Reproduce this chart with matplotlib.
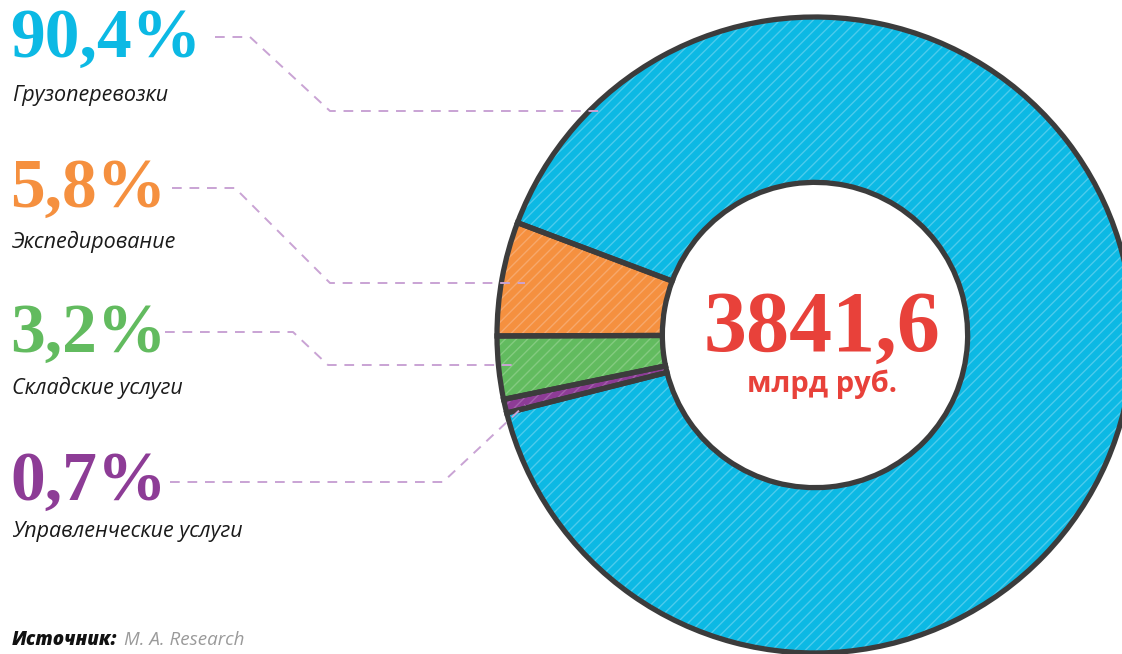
import numpy as np
import matplotlib.pyplot as plt

# доля сегментов рынка логистики, %
categories = ["Грузоперевозки", "Экспедирование", "Складские услуги", "Управленческие услуги"]
shares = [90.4, 5.8, 3.2, 0.7]
share_labels = ["90,4%", "5,8%", "3,2%", "0,7%"]
total_label = "3841,6"
total_unit = "млрд руб."

colors = ["#0cb9e4", "#f5903f", "#62bb5f", "#8d3c96"]
hatch_colors = ["#4ccbec", "#f7a86c", "#84cb80", "#a35fac"]
outline = "#3c3c3c"
leader = "#c9a3d4"

W, H = 1122, 654
fig = plt.figure(figsize=(W / 100, H / 100), dpi=100)
ax = fig.add_axes([0, 0, 1, 1])

cx, cy = 815, H - 335
R = 318
width = 0.52

# кольцо: синий сегмент первым, остальные слева
start = 194.2
wedges, _ = ax.pie(shares, colors=colors, startangle=start, counterclock=True,
                   radius=R, center=(cx, cy), frame=True,
                   wedgeprops=dict(width=R * width, linewidth=0))
for w, hc in zip(wedges, hatch_colors):
    w.set_hatch("///")
    w.set_edgecolor(hc)
ax.pie(shares, colors=["none"] * 4, startangle=start, counterclock=True,
       radius=R, center=(cx, cy), frame=True,
       wedgeprops=dict(width=R * width, linewidth=3.8, edgecolor=outline, fill=False))
ax.set_xlim(0, W)
ax.set_ylim(0, H)
ax.set_aspect("equal")
ax.axis("off")

# подписи слева
pct_y = [40, 190, 335, 483]
name_y = [95, 242, 388, 532]
for lab, name, col, py, ny in zip(share_labels, categories, colors, pct_y, name_y):
    ax.text(10, H - py, lab, color=col, fontsize=50, fontweight="bold",
            family="Liberation Serif", va="center", ha="left")
    ax.text(12, H - ny, name, color="#1a1a1a", fontsize=15.5, style="italic",
            family=["Open Sans", "DejaVu Sans"], va="center", ha="left")

# выноски
paths = [
    [(215, 37), (250, 37), (330, 111), (605, 111)],
    [(172, 188), (235, 188), (330, 283), (525, 283)],
    [(165, 332), (293, 332), (328, 365), (515, 365)],
    [(170, 482), (443, 482), (525, 405)],
]
for p in paths:
    xs = [q[0] for q in p]
    ys = [H - q[1] for q in p]
    ax.plot(xs, ys, color=leader, lw=1.4, ls=(0, (5, 4)))

# центр
ax.text(cx + 7, H - 330, total_label, color="#e8413a", fontsize=62, fontweight="bold",
        family="Liberation Serif", ha="center", va="center")
ax.text(cx + 7, H - 384, total_unit, color="#e8413a", fontsize=21, fontweight="bold",
        family=["Open Sans", "DejaVu Sans"], ha="center", va="center")

# источник
ax.text(12, H - 640, "Источник:", fontsize=13.5, fontweight="heavy", style="italic",
        family=["Open Sans", "DejaVu Sans"], color="#111111", va="center")
ax.text(124, H - 640, "M. A. Research", fontsize=13.5, style="italic",
        family=["Open Sans", "DejaVu Sans"], color="#9a9a9a", va="center")

fig.savefig("out.png", dpi=100)
